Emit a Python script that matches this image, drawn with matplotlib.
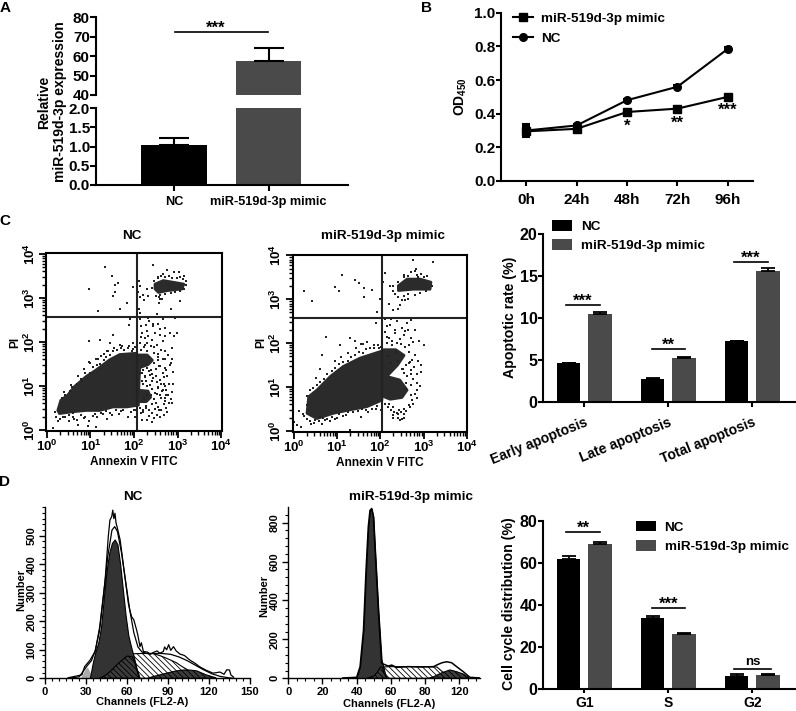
import numpy as np
import matplotlib
matplotlib.use('Agg')
import matplotlib.pyplot as plt
from matplotlib.ticker import MultipleLocator, LogLocator, NullFormatter

plt.rcParams['font.family'] = ['Liberation Sans', 'DejaVu Sans']
plt.rcParams['font.weight'] = 'bold'
plt.rcParams['axes.labelweight'] = 'bold'
plt.rcParams['mathtext.fontset'] = 'custom'
plt.rcParams['mathtext.rm'] = 'Liberation Sans:bold'
plt.rcParams['mathtext.bf'] = 'Liberation Sans:bold'
plt.rcParams['mathtext.default'] = 'rm'
plt.rcParams['hatch.linewidth'] = 0.6
plt.rcParams['axes.linewidth'] = 1.5

DARK = '#4a4a4a'
W, H = 796, 711

# panel A
a_labels = ['NC', 'miR-519d-3p mimic']
a_values = [1.05, 57.5]
a_err = [0.17, 6.7]

# panel B
b_times = ['0h', '24h', '48h', '72h', '96h']
b_mimic = [0.295, 0.31, 0.41, 0.43, 0.50]
b_nc = [0.30, 0.33, 0.48, 0.56, 0.785]
b_err_mimic = [0.03, 0.01, 0.01, 0.01, 0.01]
b_err_nc = [0.04, 0.01, 0.01, 0.01, 0.01]
b_stars = ['', '', '*', '**', '***']
b_star_y = [0, 0, 0.325, 0.345, 0.42]

# panel C flow plots, log10 units
c1_blob_x = [0.25, 0.32, 0.48, 0.63, 0.90, 1.13, 1.44, 1.67, 2.06, 2.13, 2.10, 2.10, 1.83, 1.52, 1.21, 0.90, 0.59, 0.29]
c1_blob_y = [0.44, 0.67, 0.79, 0.98, 1.21, 1.36, 1.59, 1.71, 1.74, 1.44, 0.75, 0.56, 0.52, 0.52, 0.44, 0.44, 0.41, 0.37]
c1_lobe_x = [2.10, 2.30, 2.42, 2.32, 2.15, 2.10, 2.10, 2.32, 2.38, 2.28, 2.10]
c1_lobe_y = [1.70, 1.70, 1.58, 1.48, 1.42, 1.55, 0.90, 0.88, 0.74, 0.64, 0.64]
c1_top_x = [2.48, 2.67, 2.91, 3.14, 3.10, 2.75, 2.56, 2.48]
c1_top_y = [3.31, 3.39, 3.35, 3.31, 3.20, 3.16, 3.12, 3.20]
c1_pts_x = [1.33, 1.50, 1.63, 0.96, 1.56, 1.56, 1.52, 1.83, 1.67, 1.17, 1.97, 2.43, 2.12, 2.13, 2.10, 2.13, 2.20, 2.12, 2.13, 2.23,
            2.33, 2.30, 2.60, 2.58, 2.84, 2.75, 2.91, 3.02, 3.14, 2.67, 2.56, 3.15, 3.06, 2.52, 2.94, 2.67, 2.13, 1.90, 1.89, 2.29,
            2.44, 2.48, 2.60, 2.71, 2.83, 2.98, 2.91, 2.25, 2.13, 2.29, 2.52, 2.67, 2.87, 1.98, 1.52, 1.21, 0.96, 1.44, 1.67, 0.96,
            1.05, 1.18, 1.30, 1.38, 1.55, 1.72, 1.85, 1.98, 0.72, 0.80, 0.55, 0.40, 0.18, 0.25, 0.38, 0.50, 0.62, 0.72, 0.85, 0.95,
            1.10, 1.25, 1.38, 1.50, 1.70, 1.85, 2.00, 0.15, 0.60, 1.12, 2.15, 2.22, 2.30, 2.38, 2.46, 2.55, 2.62, 2.70, 2.78, 2.85,
            2.18, 2.26, 2.34, 2.42, 2.50, 2.58, 2.66, 2.74, 2.82, 2.20, 2.28, 2.36, 2.44, 2.52, 2.60, 2.68, 2.76, 2.40, 2.48, 2.56,
            2.64, 2.72, 2.28, 2.40, 2.62, 2.70, 2.20, 2.34, 2.46, 2.58, 2.74, 2.80, 2.18, 2.52, 2.90, 2.88, 2.44, 2.32]
c1_pts_y = [3.71, 3.50, 3.33, 3.20, 3.29, 3.12, 3.03, 2.87, 2.75, 2.70, 3.25, 3.75, 3.39, 3.26, 3.14, 3.01, 3.06, 2.75, 2.65, 2.95,
            3.03, 3.20, 2.97, 2.89, 2.75, 3.62, 3.58, 3.59, 3.50, 3.54, 3.46, 3.20, 2.93, 2.62, 2.55, 2.51, 2.51, 2.51, 2.39, 2.24,
            2.36, 2.20, 2.16, 2.13, 2.20, 2.20, 2.14, 2.09, 1.97, 1.97, 1.93, 2.01, 1.86, 1.97, 2.16, 2.05, 2.01, 1.97, 1.93, 1.55,
            1.42, 1.62, 1.72, 1.78, 1.85, 1.90, 1.85, 1.84, 1.22, 1.12, 1.02, 0.85, 0.40, 0.20, 0.28, 0.33, 0.24, 0.12, 0.26, 0.08,
            0.35, 0.38, 0.25, 0.34, 0.42, 0.30, 0.44, 0.05, 0.38, 0.06, 1.82, 1.88, 1.78, 1.90, 1.75, 1.66, 1.82, 1.60, 1.70, 1.52,
            1.30, 1.22, 1.34, 1.26, 1.38, 1.44, 1.28, 1.36, 1.48, 1.05, 1.12, 1.02, 1.18, 1.08, 1.14, 1.04, 1.22, 0.92, 0.84, 0.98,
            0.88, 1.00, 0.54, 0.58, 0.72, 0.66, 0.40, 0.32, 0.26, 0.44, 0.80, 0.62, 0.22, 0.34, 1.32, 1.62, 2.40, 2.55]
c1_more_x = [.35, .42, .52, .58, .70, .78, .88, .98, 1.05, 1.15, 1.22, 1.30, 1.35, 1.45, 1.52, 1.60, 1.70, 1.78, 1.88, 1.95, 2.02, .85, 1.00, 1.12, 1.25, 1.40,
             .20, .30, .42, .50, .60, .68, .78, .88, .96, 1.05, 1.15, 1.28, 1.35, 1.45, 1.58, 1.65, 1.75, 1.92, 2.03, 2.05,
             2.14, 2.20, 2.16, 2.28, 2.34, 2.40, 2.48, 2.55, 2.62, 2.68, 2.74, 2.18, 2.24, 2.30, 2.36, 2.42, 2.50, 2.56, 2.62, 2.68, 2.74, 2.80, 2.86, 2.90,
             2.14, 2.20, 2.30, 2.38, 2.46, 2.54, 2.60, 2.66, 2.72, 2.30, 2.38, 2.46, 2.52, 2.60, 2.66, 2.72, 2.78, 2.84, 2.88, 2.22, 2.50, 2.60, 2.68, 2.76, 2.40, 2.30,
             2.35, 2.55, 2.70, 2.45, 2.25, 2.15, 2.32, 2.40, 2.60, 2.72, 2.55, 2.35, 2.15, 2.18, 2.28,
             2.40, 2.45, 2.55, 2.62, 2.72, 2.80, 2.88, 2.98, 3.05, 3.12, 3.18, 3.20, 3.05, 2.95, 2.85, 2.70, 2.60, 2.50, 2.65, 2.58]
c1_more_y = [.72, .80, .88, .98, 1.05, 1.15, 1.28, 1.30, 1.42, 1.48, 1.50, 1.58, 1.66, 1.70, 1.78, 1.82, 1.85, 1.82, 1.90, 1.80, 1.88, 1.38, 1.52, 1.60, 1.68, 1.78,
             .30, .25, .30, .20, .30, .22, .34, .30, .20, .32, .30, .36, .42, .38, .46, .36, .44, .40, .30, .46,
             .50, .46, .38, .50, .46, .38, .48, .52, .44, .58, .50, 1.10, 1.20, 1.00, 1.25, 1.10, 1.22, .95, 1.05, 1.20, .90, 1.05, .85, 1.05,
             1.30, 1.36, 1.40, 1.36, 1.52, 1.58, 1.46, 1.60, 1.40, .78, .80, .70, .82, .78, .90, .72, .78, .70, .60, .70, .60, .30, .34, .40, .18, .22,
             1.65, 1.72, 1.80, 1.88, 1.92, 2.10, 2.12, 2.05, 2.28, 2.32, 2.40, 2.48, 2.35, 2.20, 2.38,
             3.22, 3.38, 3.48, 3.50, 3.48, 3.50, 3.46, 3.46, 3.48, 3.42, 3.38, 3.28, 3.15, 3.12, 3.10, 3.08, 3.06, 3.05, 2.98, 3.02]

c2_blob_x = [0.35, 0.54, 0.85, 1.15, 1.54, 2.04, 2.04, 1.69, 1.31, 0.92, 0.54, 0.31]
c2_blob_y = [0.78, 0.93, 1.24, 1.47, 1.66, 1.82, 0.70, 0.55, 0.48, 0.40, 0.28, 0.40]
c2_lobe_x = [2.08, 2.36, 2.55, 2.40, 2.15, 2.45, 2.62, 2.50, 2.23, 2.08]
c2_lobe_y = [1.85, 1.85, 1.72, 1.50, 1.24, 1.16, 0.93, 0.76, 0.72, 0.78]
c2_top_x = [2.42, 2.62, 2.92, 3.17, 3.15, 2.77, 2.42]
c2_top_y = [3.31, 3.46, 3.46, 3.39, 3.23, 3.23, 3.20]
c2_pts_x = [0.25, 0.95, 1.05, 1.12, 1.42, 1.50, 1.63, 1.62, 1.80, 2.00, 0.42, 2.07, 2.10, 2.22, 2.30, 2.40, 2.75, 2.85, 3.22, 2.80,
            2.95, 2.55, 2.65, 2.20, 2.30, 1.92, 1.90, 2.12, 2.22, 2.38, 2.50, 2.62, 2.70, 2.80, 2.15, 2.34, 2.46, 2.58, 2.72, 2.90,
            3.00, 0.76, 1.08, 1.30, 1.42, 1.55, 1.70, 1.85, 1.98, 0.65, 0.60, 0.52, 0.12, 0.02, 0.08, 0.18, 0.25, 0.40, 0.50, 0.66,
            0.85, 1.00, 1.30, 1.20, 1.55, 1.72, 1.90, 0.30, 0.62, 0.72, 2.20, 2.32, 2.44, 2.56, 2.68, 2.76, 2.86, 2.94, 2.30, 2.46,
            2.60, 2.72, 2.84, 2.18, 2.26, 2.40, 2.52, 2.66, 2.78, 2.60, 2.70, 2.30, 2.42, 2.48, 2.56, 2.66, 2.28, 2.36, 2.50]
c2_pts_y = [3.20, 3.28, 3.20, 3.55, 3.45, 3.38, 3.25, 3.05, 3.22, 3.00, 2.95, 3.40, 3.60, 3.30, 3.20, 3.05, 3.90, 3.55, 3.85, 3.65,
            3.58, 3.50, 3.00, 2.90, 2.75, 2.70, 2.45, 2.55, 2.42, 2.50, 2.35, 2.45, 2.52, 2.30, 2.15, 2.22, 2.10, 2.28, 2.12, 2.05,
            1.95, 2.15, 1.95, 2.12, 2.05, 1.98, 2.02, 1.96, 1.90, 1.72, 1.40, 1.20, 0.45, 0.20, 0.13, 0.08, 0.33, 0.16, 0.25, 0.15,
            0.22, 0.30, 0.02, 0.36, 0.32, 0.44, 0.50, 0.60, 0.32, 0.24, 0.62, 0.42, 0.48, 0.30, 0.55, 0.62, 0.75, 1.35, 0.35, 0.25,
            1.10, 1.38, 1.30, 1.70, 1.55, 1.60, 1.42, 1.55, 1.45, 0.95, 0.82, 0.30, 0.38, 0.42, 0.50, 1.95, 2.05, 1.80, 1.72]
c2_more_x = [.30, .38, .46, .55, .62, .70, .78, .88, .95, 1.05, 1.15, 1.25, 1.32, 1.42, 1.50, 1.60, 1.68, 1.76, 1.85, 1.95, 2.02, .95, 1.10, 1.25, 1.45, 1.60,
             .22, .30, .38, .48, .58, .68, .78, .88, .96, 1.06, 1.15, 1.25, 1.38, 1.48, 1.58, 1.68, 1.80, 1.92, 2.02, 2.05,
             2.12, 2.18, 2.24, 2.30, 2.38, 2.42, 2.50, 2.55, 2.60, 2.66, 2.74, 2.80, 2.86, 2.92, 2.70, 2.76, 2.84, 2.62, 2.70, 2.56, 2.50, 2.60, 2.68, 2.74, 2.80, 2.88, 2.95,
             2.66, 2.58, 2.48, 2.38, 2.28, 2.16, 2.20, 2.35, 2.55, 2.65, 2.75, 2.15, 2.25, 2.12,
             2.30, 2.40, 2.55, 2.65, 2.72, 2.82, 2.88, 3.00, 3.08, 3.20, 3.05, 2.92, 2.80, 2.65, 2.55, 2.50, 2.45, 2.42, 2.58, 2.35]
c2_more_y = [.80, .92, .98, 1.05, 1.12, 1.18, 1.30, 1.36, 1.44, 1.52, 1.58, 1.60, 1.68, 1.72, 1.80, 1.78, 1.86, 1.90, 1.88, 1.95, 1.92, 1.60, 1.68, 1.78, 1.90, 1.98,
             .38, .28, .22, .18, .22, .30, .26, .32, .28, .38, .34, .42, .42, .46, .50, .48, .50, .56, .48, .35,
             .62, .55, .48, .55, .40, .30, .26, .38, .46, .58, .70, .85, .92, 1.02, 1.05, 1.18, 1.10, 1.25, 1.30, 1.32, 1.40, 1.50, 1.58, 1.62, 1.72, 1.60, 1.50,
             1.80, 1.92, 1.98, 2.00, 1.95, 2.00, 2.12, 2.30, 2.18, 2.30, 2.02, 2.40, 2.55, 2.25,
             3.30, 3.40, 3.55, 3.52, 3.62, 3.68, 3.50, 3.50, 3.52, 3.30, 3.20, 3.15, 3.10, 3.12, 3.08, 2.98, 2.88, 2.78, 2.98, 3.12]

# bar panels
apop_groups = ['Early apoptosis', 'Late apoptosis', 'Total apoptosis']
apop_nc = [4.65, 2.8, 7.25]
apop_mimic = [10.5, 5.25, 15.65]
apop_err_nc = [0.05, 0.03, 0.07]
apop_err_mimic = [0.2, 0.12, 0.3]
apop_sig = ['***', '**', '***']
apop_sig_y = [11.57, 6.35, 16.7]

cycle_groups = ['G1', 'S', 'G2']
cycle_nc = [62, 33.7, 6]
cycle_mimic = [68.9, 25.9, 6.5]
cycle_err_nc = [1.2, 0.8, 0.8]
cycle_err_mimic = [1.1, 0.7, 0.5]
cycle_sig = ['**', '***', 'ns']
cycle_sig_y = [74.6, 38.4, 9.5]

# panel D histograms
d1_raw_x = [17, 27, 29, 33, 36.6, 40, 44, 46.3, 47.5, 48.8, 49.6, 50.4, 51.2, 52, 53, 55, 57.8, 61, 62, 63.4, 65, 67, 68, 69.5, 70.5, 72, 75, 77, 79, 82, 84, 86.6, 87.5, 89, 90.5, 92, 94, 96, 98.8, 102, 106, 110, 113, 118, 123, 128, 131, 133, 135, 136, 138]
d1_raw_y = [2, 12, 41, 64, 94, 170, 345, 497, 555, 567, 590, 560, 579, 545, 526, 485, 380, 263, 240, 216, 205, 170, 150, 111, 125, 94, 92, 84, 90, 96, 88, 94, 110, 100, 118, 98, 111, 96, 85, 80, 64, 52, 41, 28, 18, 22, 14, 30, 29, 12, 4]
d1_fit_x = [17, 25, 28, 31, 34, 37, 40, 43, 46, 49, 51, 53, 56, 59, 62, 65, 68, 71, 75, 80, 86, 92, 98, 104, 110, 116, 122, 128, 134, 138]
d1_fit_y = [0, 5, 25, 45, 62, 100, 180, 300, 430, 520, 532, 515, 440, 340, 240, 160, 110, 92, 87, 87, 87, 84, 75, 62, 46, 30, 16, 7, 2, 0]
d1_debris_x = [25, 27, 29, 31, 33, 35]
d1_debris_y = [0, 10, 30, 40, 20, 0]
d1_g1_x = [33, 35, 37, 39, 41, 43, 45, 47, 49, 51, 53, 55, 57, 59, 61, 63, 65, 67, 69]
d1_g1_y = [5, 55, 95, 125, 180, 280, 375, 440, 475, 487, 470, 400, 310, 220, 150, 110, 75, 35, 5]
d1_s_x = [40, 44, 48, 52, 56, 60, 64, 70, 79, 85, 90, 96, 100, 106, 113, 120]
d1_s_y = [0, 10, 25, 45, 62, 78, 86, 87, 87, 78, 68, 55, 42, 25, 10, 0]
d1_under_x = [40, 44, 48, 52, 56, 60, 64, 66, 68, 69]
d1_under_y = [0, 10, 25, 45, 62, 78, 75, 50, 15, 0]
d1_g2_x = [75, 79, 84, 89, 95, 101, 106, 111, 118, 125]
d1_g2_y = [0, 6, 12, 18, 25, 29, 29, 26, 12, 2]

d2_raw_x = [32, 40, 42, 44, 45.5, 46.8, 47.8, 48.8, 49.8, 50.7, 52.7, 54.6, 58.5, 60.5, 63.4, 70, 78, 85, 87.8, 90, 92.7, 95.6, 98.5, 102.4, 106.3, 112]
d2_raw_y = [2, 5, 60, 248, 556, 778, 863, 873, 830, 675, 350, 77, 63, 68, 56, 60, 58, 60, 72, 80, 85, 80, 60, 34, 5, 2]
d2_g1_x = [40, 42, 44, 45.5, 46.8, 47.8, 48.8, 49.8, 50.7, 52.7, 54.6, 56.6, 57.6]
d2_g1_y = [5, 60, 248, 556, 778, 863, 870, 830, 675, 350, 94, 25, 5]
d2_s_x = [46, 50, 52, 55, 60, 70, 80, 87, 90, 93, 96]
d2_s_y = [0, 12, 30, 58, 60, 60, 60, 58, 35, 15, 0]
d2_under_x = [46, 50, 52, 54, 55, 56, 57.6]
d2_under_y = [0, 12, 30, 58, 58, 25, 0]
d2_g2_x = [82, 85, 90, 94.6, 98.5, 102.4, 105.4]
d2_g2_y = [0, 8, 29, 43, 34, 22, 5]
d2_tick_pos = [0, 20, 40, 60, 80, 100]
d2_tick_labels = ['0', '20', '40', '60', '80', '120']

HATCH = '\\' * 6

fig = plt.figure(figsize=(W / 100, H / 100), dpi=100)


def box(x0, y0, x1, y1):
    return fig.add_axes([x0 / W, 1 - y1 / H, (x1 - x0) / W, (y1 - y0) / H])


def label(x, y, s, **kw):
    kw.setdefault('ha', 'center')
    kw.setdefault('va', 'center')
    kw.setdefault('fontsize', 10)
    fig.text(x / W, 1 - y / H, s, **kw)


for s, x, y in [('A', 5, 8), ('B', 426, 8), ('C', 5, 221), ('D', 5, 482)]:
    label(x, y, s, fontsize=11)

# A, broken axis
top = box(96, 17.3, 348, 95)
low = box(96, 108, 348, 185)
for ax, lim in [(top, (40, 80)), (low, (0, 2))]:
    ax.bar([0, 1], a_values, width=0.693, color=['black', DARK])
    ax.errorbar([0, 1], a_values, yerr=[[0, 0], a_err], fmt='none', ecolor='black', elinewidth=1.5, capsize=11, capthick=1.5)
    ax.set_xlim(-0.825, 1.84)
    ax.set_ylim(lim)
    ax.spines[['top', 'right']].set_visible(False)
    ax.tick_params(width=1.5, length=4, labelsize=11, pad=0.5)
top.spines['bottom'].set_visible(False)
top.set_xticks([])
top.set_yticks([40, 50, 60, 70, 80])
low.set_yticks([0, 0.5, 1.0, 1.5, 2.0])
low.set_xticks([0, 1])
low.set_xticklabels(a_labels, fontsize=9.2)
low.tick_params(axis='x', pad=4)
top.plot([0.01, 0.995], [72.2, 72.2], color='black', lw=1.2, clip_on=False)
top.text(0.445, 74.5, '***', ha='center', va='center', fontsize=12)
label(52, 102, 'Relative\nmiR-519d-3p expression', rotation=90, linespacing=1.2, multialignment='center')

# B
ax = box(501, 12.7, 753, 181)
ax.errorbar(range(5), b_mimic, yerr=b_err_mimic, color='black', marker='s', ms=5.5, lw=1.5, capsize=3, capthick=1.5, label='miR-519d-3p mimic')
ax.errorbar(range(5), b_nc, yerr=b_err_nc, color='black', marker='o', ms=5.5, lw=1.5, capsize=3, capthick=1.5, label='NC')
for i in range(5):
    if b_stars[i]:
        ax.text(i, b_star_y[i], b_stars[i], ha='center', va='center', fontsize=12)
ax.set_xlim(-0.5, 4.5)
ax.set_ylim(0, 1)
ax.set_xticks(range(5))
ax.set_xticklabels(b_times)
ax.set_yticks([0, 0.2, 0.4, 0.6, 0.8, 1.0])
ax.spines[['top', 'right']].set_visible(False)
ax.tick_params(width=1.5, length=3.5, labelsize=11, pad=0.5)
ax.tick_params(axis='x', pad=5)
h, l = ax.get_legend_handles_labels()
h = [x[0] for x in h]
ax.legend(h, l, frameon=False, loc='upper left', bbox_to_anchor=(0.047, 1.0), fontsize=9.7, handlelength=1.48,
          handletextpad=0.64, labelspacing=0.55, borderpad=0, borderaxespad=0)
label(461, 97, 'OD$_{450}$', rotation=90, fontsize=10)


# C flow plots
def flow(rect, title, tx, blob, lobe, cluster, pts, more, qx, qy, ylab_x):
    ax = box(*rect)
    ax.set_xscale('log')
    ax.set_yscale('log')
    for px, py in (blob, lobe, cluster):
        ax.fill(10 ** np.array(px), 10 ** np.array(py), color='#2b2b2b', lw=2, joinstyle='round')
    for p in (pts, more):
        ax.plot(10 ** np.array(p[0]), 10 ** np.array(p[1]), ls='none', marker='s', ms=1.7, color='#222222', mew=0)
    ax.axvline(qx, color='#222222', lw=1.5)
    ax.axhline(qy, color='#222222', lw=1.5)
    ax.set_xlim(10 ** -0.02, 10 ** 4.01)
    ax.set_ylim(10 ** -0.02, 10 ** 4.01)
    ax.set_xticks([1, 10, 100, 1000, 10000])
    ax.set_xticklabels(['$10^{%d}$' % i for i in range(5)], fontsize=9.5)
    ax.set_yticks([1, 10, 100, 1000, 10000])
    ax.set_yticklabels(['$10^{%d}$' % i for i in range(5)], fontsize=9.5, rotation=90, va='center')
    for axis in (ax.xaxis, ax.yaxis):
        axis.set_minor_locator(LogLocator(base=10, subs=range(2, 10), numticks=10))
        axis.set_minor_formatter(NullFormatter())
    ax.tick_params(which='major', width=1.3, length=5, pad=1)
    ax.tick_params(which='minor', width=1.0, length=3)
    label(tx, 236, title, fontsize=9.7)
    label((rect[0] + rect[2]) / 2, rect[3] + 31, 'Annexin V FITC', fontsize=8.6)
    label(ylab_x, 342, 'PI', rotation=90, fontsize=8.6)


flow((46, 253.3, 221.7, 430.7), 'NC', 131.7, (c1_blob_x, c1_blob_y), (c1_lobe_x, c1_lobe_y), (c1_top_x, c1_top_y),
     (c1_pts_x, c1_pts_y), (c1_more_x, c1_more_y), 115, 372, 15)
flow((292.7, 255, 467.3, 431.7), 'miR-519d-3p mimic', 383, (c2_blob_x, c2_blob_y), (c2_lobe_x, c2_lobe_y), (c2_top_x, c2_top_y),
     (c2_pts_x, c2_pts_y), (c2_more_x, c2_more_y), 112, 380, 261)


# grouped bars C and D
def bars(rect, groups, nc, mimic, err_nc, err_mimic, sig, sig_y, spans, ylim, ticks, ylab, ylab_x, ylab_y, leg_anchor):
    ax = box(*rect)
    x = np.arange(3)
    ax.bar(x - 0.187, nc, 0.28, color='black', label='NC', yerr=[[0] * 3, err_nc], error_kw=dict(elinewidth=1.3, capsize=5, capthick=1.3))
    ax.bar(x + 0.187, mimic, 0.28, color=DARK, label='miR-519d-3p mimic', yerr=[[0] * 3, err_mimic], error_kw=dict(elinewidth=1.3, capsize=5, capthick=1.3))
    for i in range(3):
        ax.plot(spans[i], [sig_y[i], sig_y[i]], color='black', lw=1.2)
        mid = sum(spans[i]) / 2
        if sig[i] == 'ns':
            ax.text(mid, sig_y[i] + ylim[1] * 0.005, sig[i], ha='center', va='bottom', fontsize=9.5)
        else:
            ax.text(mid, sig_y[i] + ylim[1] * 0.02, sig[i], ha='center', va='center', fontsize=12)
    ax.set_xlim(-0.488, 2.52)
    ax.set_ylim(ylim)
    ax.set_yticks(ticks)
    ax.set_xticks(x)
    ax.spines[['top', 'right']].set_visible(False)
    ax.tick_params(width=1.5, length=3.5, labelsize=11.5, pad=0.5)
    ax.legend(frameon=False, loc='upper left', bbox_to_anchor=leg_anchor, fontsize=9.7, handlelength=1.5, handleheight=0.85,
              handletextpad=0.65, labelspacing=0.45, borderpad=0, borderaxespad=0)
    label(ylab_x, ylab_y, ylab, rotation=90, fontsize=10.2)
    return ax


ax = bars((543.3, 234.3, 796, 402), apop_groups, apop_nc, apop_mimic, apop_err_nc, apop_err_mimic, apop_sig, apop_sig_y,
          [(-0.215, 0.185), (0.80, 1.20), (1.785, 2.185)], (0, 20), [0, 5, 10, 15, 20], 'Apoptotic rate (%)', 510, 317.5, (0.035, 1.085))
ax.set_xticklabels(apop_groups, rotation=22, ha='right', rotation_mode='anchor', fontsize=10)
ax.tick_params(axis='x', pad=6)

ax = bars((543.3, 520.7, 796, 688.7), cycle_groups, cycle_nc, cycle_mimic, cycle_err_nc, cycle_err_mimic, cycle_sig, cycle_sig_y,
          [(-0.215, 0.185), (0.80, 1.20), (1.785, 2.22)], (0, 80), [0, 20, 40, 60, 80], 'Cell cycle distribution (%)', 509, 604, (0.365, 1.0))
ax.set_xticklabels(cycle_groups, fontsize=10)
ax.tick_params(axis='x', pad=2.5, length=3)


# D histograms
def hist(rect, xlim, ylim):
    ax = box(*rect)
    ax.set_xlim(xlim)
    ax.set_ylim(ylim)
    ax.spines[['top', 'right']].set_visible(False)
    ax.spines['left'].set_linewidth(1.0)
    ax.spines['bottom'].set_linewidth(1.0)
    ax.tick_params(which='major', width=1.0, length=4, labelsize=8, pad=2)
    ax.tick_params(which='minor', width=0.8, length=2)
    return ax


ax = hist((45, 506.7, 250, 678.3), (0, 150), (0, 602))
ax.fill_between(d1_s_x, d1_s_y, facecolor='white', edgecolor='black', hatch=HATCH, lw=0.8)
ax.fill_between(d1_debris_x, d1_debris_y, color='#aaaaaa', lw=0)
ax.fill_between(d1_g1_x, d1_g1_y, color='#333333', edgecolor='black', lw=0.8)
ax.fill_between(d1_under_x, d1_under_y, facecolor='#3c3c3c', edgecolor='black', hatch=HATCH, lw=0.8)
ax.fill_between(d1_g2_x, d1_g2_y, facecolor='#3c3c3c', edgecolor='black', hatch=HATCH, lw=0.8)
ax.plot(d1_fit_x, d1_fit_y, color='black', lw=0.9)
ax.plot(d1_raw_x, d1_raw_y, color='black', lw=0.9)
ax.set_xticks([0, 30, 60, 90, 120, 150])
ax.set_yticks([0, 100, 200, 300, 400, 500])
ax.set_yticklabels(['0', '100', '200', '300', '400', '500'], rotation=90, va='center')
ax.xaxis.set_minor_locator(MultipleLocator(5))
ax.yaxis.set_minor_locator(MultipleLocator(20))
label(133, 496.7, 'NC', fontsize=9.7)
label(142, 702, 'Channels (FL2-A)', fontsize=8)
label(21, 590, 'Number', rotation=90, fontsize=8)

ax = hist((288.3, 507.3, 480, 678.3), (0, 112.2), (0, 879))
ax.fill_between(d2_s_x, d2_s_y, facecolor='white', edgecolor='black', hatch=HATCH, lw=0.8)
ax.fill_between(d2_g1_x, d2_g1_y, color='#333333', edgecolor='black', lw=0.8)
ax.fill_between(d2_under_x, d2_under_y, facecolor='#3c3c3c', edgecolor='black', hatch=HATCH, lw=0.8)
ax.fill_between(d2_g2_x, d2_g2_y, facecolor='#3c3c3c', edgecolor='black', hatch=HATCH, lw=0.8)
ax.plot(d2_raw_x, d2_raw_y, color='black', lw=1.1)
ax.set_xticks(d2_tick_pos)
ax.set_xticklabels(d2_tick_labels)
ax.set_yticks([0, 200, 400, 600, 800])
ax.set_yticklabels(['0', '200', '400', '600', '800'], rotation=90, va='center')
ax.xaxis.set_minor_locator(MultipleLocator(5))
ax.yaxis.set_minor_locator(MultipleLocator(40))
label(410.7, 497, 'miR-519d-3p mimic', fontsize=9.7)
label(389, 704, 'Channels (FL2-A)', fontsize=8)
label(264, 596, 'Number', rotation=90, fontsize=8)

fig.savefig('out.png', dpi=100)
